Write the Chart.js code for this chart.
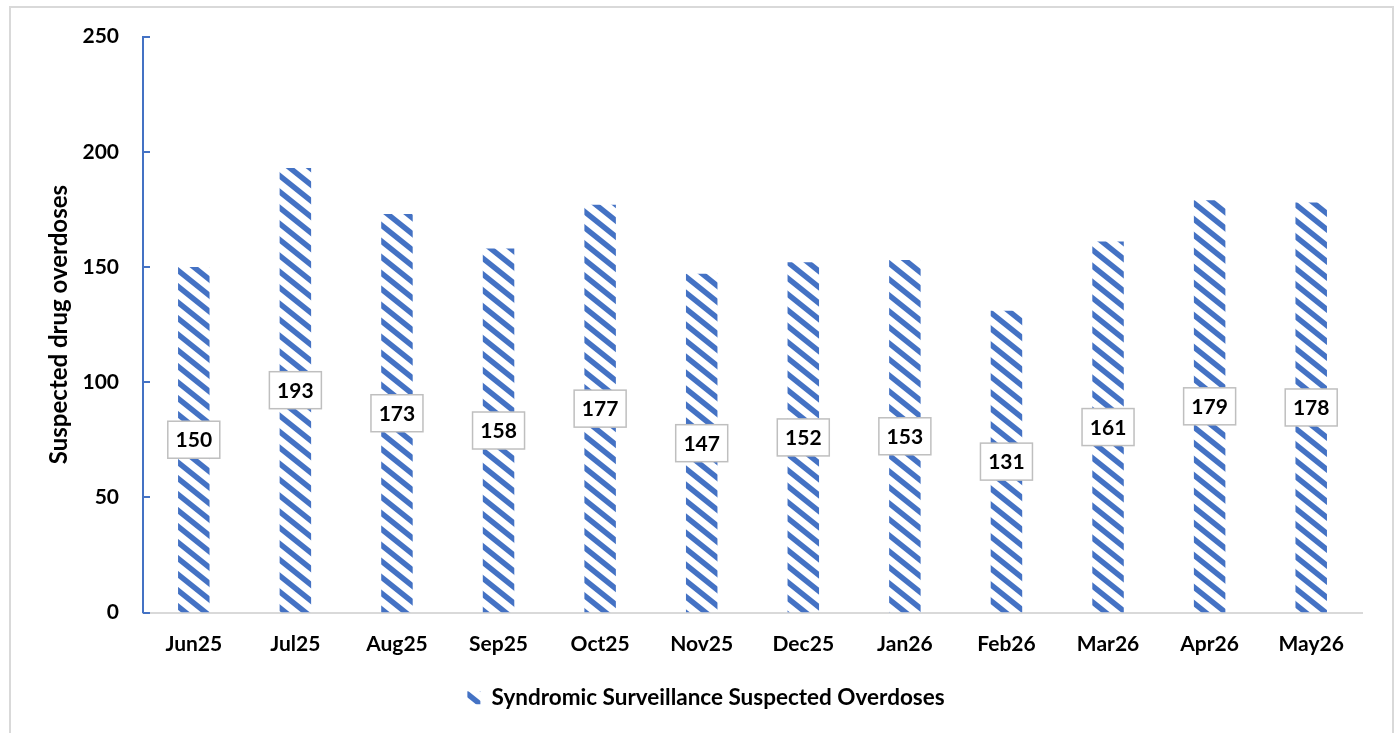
<!DOCTYPE html>
<html>
<head>
<meta charset="utf-8">
<script src="https://cdn.jsdelivr.net/npm/chart.js@4.4.1/dist/chart.umd.min.js"></script>
<style>
  html, body { margin: 0; padding: 0; background: #fff; overflow: hidden; }
  #wrap { position: relative; width: 1398px; height: 733px; }
  #frame { position: absolute; left: 9px; top: 6px; width: 1381px; height: 800px;
           border: 2px solid #d9d9d9; pointer-events: none; }
</style>
</head>
<body>
<div id="wrap">
  <canvas id="graph" width="1398" height="733"></canvas>
  <div id="frame"></div>
</div>
<script>
let months = ['Jun25','Jul25','Aug25','Sep25','Oct25','Nov25','Dec25','Jan26','Feb26','Mar26','Apr26','May26'];
let overdoses = [150, 193, 173, 158, 177, 147, 152, 153, 131, 161, 179, 178];
let seriesName = 'Syndromic Surveillance Suspected Overdoses';
let yTitle = 'Suspected drug overdoses';

let blue = '#4472C4';
let font = 'Lato';

// striped fill like the office "wide downward diagonal" pattern
function stripes() {
  let w = 20, h = 16;
  let c = document.createElement('canvas');
  c.width = w; c.height = h;
  let g = c.getContext('2d');
  g.strokeStyle = blue;
  g.lineWidth = 5.5;
  for (let dx of [-w, 0, w]) {
    g.beginPath();
    g.moveTo(dx - w, -h);
    g.lineTo(dx + 2 * w, 2 * h);
    g.stroke();
  }
  return g.createPattern(c, 'repeat');
}

let boxLabels = {
  id: 'boxLabels',
  afterDatasetsDraw(chart) {
    let c = chart.ctx;
    let meta = chart.getDatasetMeta(0);
    c.save();
    c.font = 'bold 21px ' + font;
    c.textAlign = 'center';
    c.textBaseline = 'middle';
    meta.data.forEach((bar, i) => {
      let cy = (bar.y + bar.base) / 2;
      let w = 52, h = 37;
      c.fillStyle = '#fff';
      c.fillRect(bar.x - w / 2, cy - h / 2, w, h);
      c.strokeStyle = '#bfbfbf';
      c.lineWidth = 1.5;
      c.strokeRect(bar.x - w / 2, cy - h / 2, w, h);
      c.fillStyle = '#000';
      c.fillText(overdoses[i], bar.x, cy + 1);
    });
    c.restore();
  }
};

// tick marks on the inside of the y axis
let innerTicks = {
  id: 'innerTicks',
  afterDraw(chart) {
    let y = chart.scales.y;
    let c = chart.ctx;
    c.save();
    c.strokeStyle = blue;
    c.lineWidth = 2;
    y.ticks.forEach(t => {
      let py = Math.round(y.getPixelForValue(t.value));
      c.beginPath();
      c.moveTo(y.right, py);
      c.lineTo(y.right + 7, py);
      c.stroke();
    });
    c.restore();
  }
};

// nudge the legend a little right, like the original
let legendShift = {
  id: 'legendShift',
  afterLayout(chart) {
    chart.legend.left += 19;
    chart.legend.right += 19;
  }
};

let ctx = document.getElementById('graph').getContext('2d');
let bars = new Chart(ctx, {
  type: 'bar',
  data: {
    labels: months,
    datasets: [{
      label: seriesName,
      data: overdoses,
      backgroundColor: stripes(),
      borderWidth: 0,
      barPercentage: 1,
      categoryPercentage: 0.31
    }]
  },
  options: {
    responsive: false,
    animation: false,
    layout: { padding: { left: 12, right: 36, top: 35, bottom: 14 } },
    scales: {
      x: {
        grid: { display: false, drawTicks: false },
        border: { color: '#d9d9d9', width: 2 },
        ticks: { color: '#000', padding: 19, font: { family: font, size: 21, weight: 'bold' } },
        afterFit(s) { s.height = 64; }
      },
      y: {
        min: 0, max: 250,
        grid: { display: false, drawTicks: false },
        border: { color: blue, width: 2 },
        ticks: { stepSize: 50, color: '#000', padding: 24, font: { family: font, size: 21, weight: 'bold' } },
        title: {
          display: true, text: yTitle, color: '#000',
          padding: { top: 33, bottom: 0 },
          font: { family: font, size: 24, weight: 'bold' }
        },
        afterFit(s) { s.width = 131; }
      }
    },
    plugins: {
      tooltip: { enabled: false },
      legend: {
        position: 'bottom',
        labels: {
          color: '#000', boxWidth: 13, boxHeight: 13, padding: 10,
          font: { family: font, size: 22.5, weight: 'bold' }
        }
      }
    }
  },
  plugins: [boxLabels, innerTicks, legendShift]
});
</script>
</body>
</html>
